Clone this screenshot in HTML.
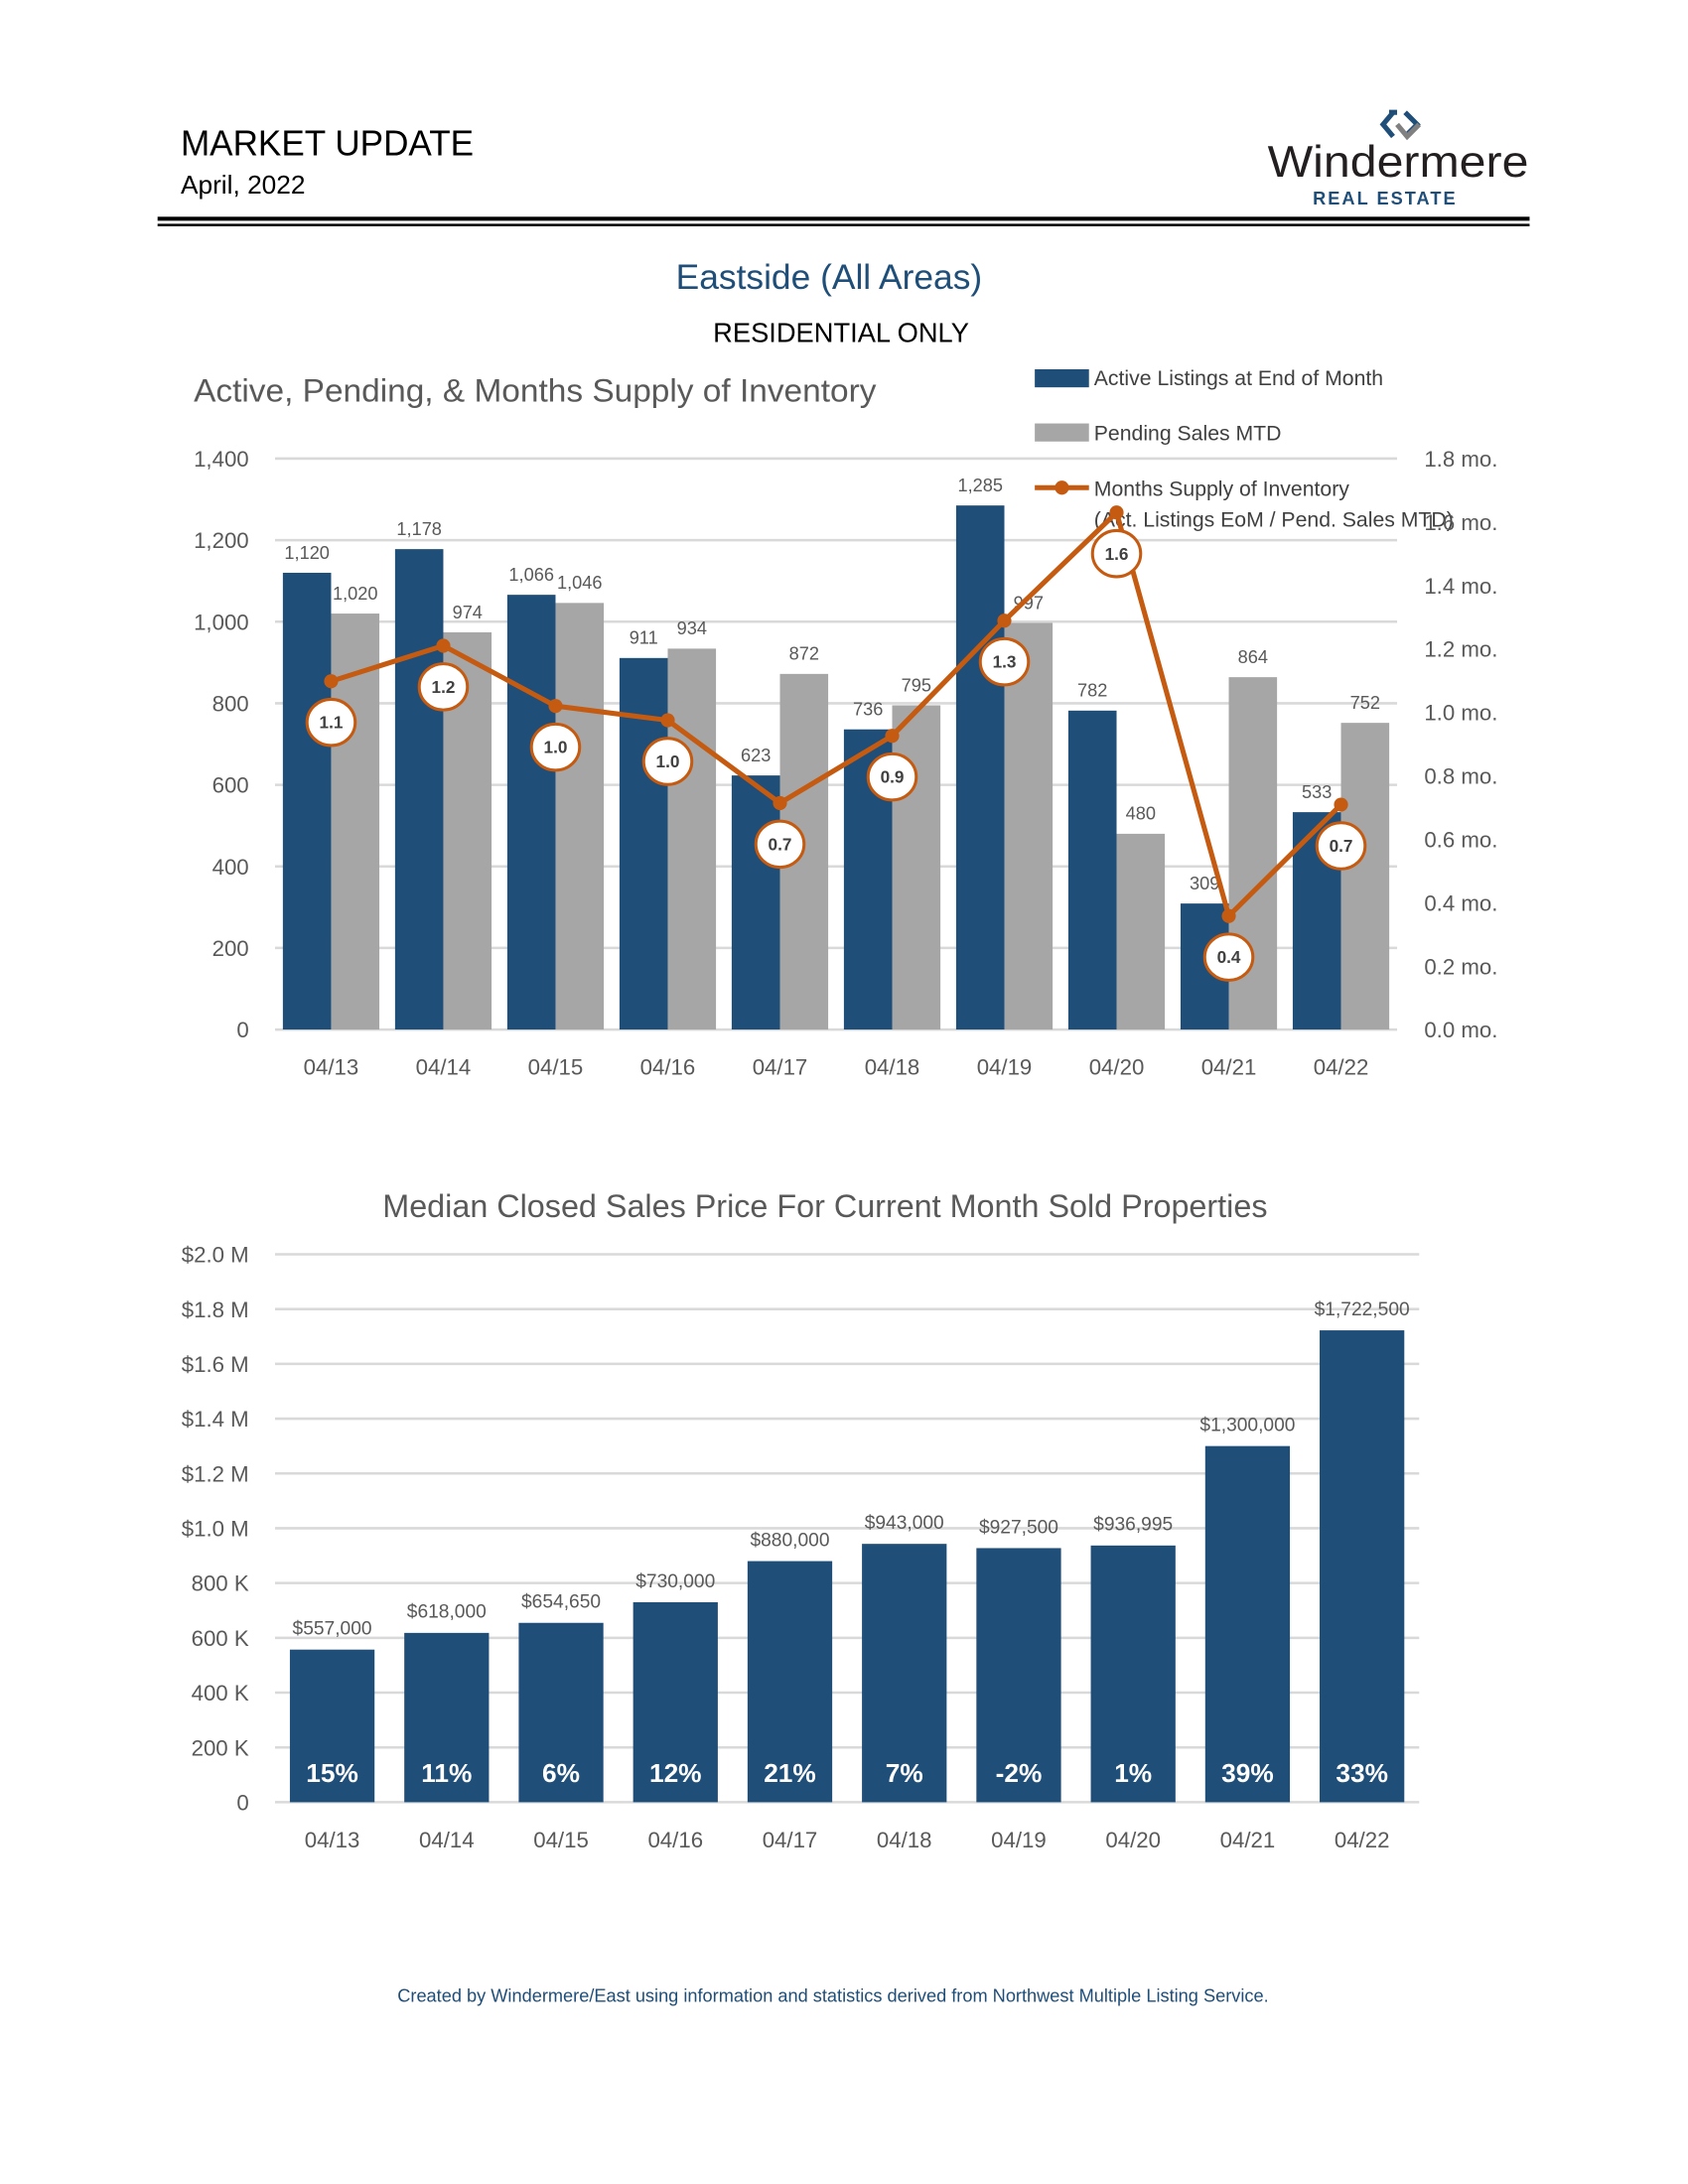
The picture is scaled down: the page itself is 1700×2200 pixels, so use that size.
<!DOCTYPE html>
<html><head><meta charset="utf-8"><style>
html,body{margin:0;padding:0;background:#fff;}
svg{display:block;font-family:"Liberation Sans",sans-serif;}
</style></head><body>
<svg id="page" width="1700" height="2200" viewBox="0 0 1700 2200" xmlns="http://www.w3.org/2000/svg">
<g transform="scale(1.0108)">
<text x="180" y="155" font-size="36" fill="#000" textLength="292" lengthAdjust="spacingAndGlyphs">MARKET UPDATE</text>
<text x="180" y="193" font-size="26" fill="#000">April, 2022</text>
<g>
<path d="M1388 112 l-10 12 l10 12 M1384 112 l8 0 M1400 112 l12 12 l-12 12" stroke="#1f4e79" stroke-width="5" fill="none"/>
<path d="M1392 124 l10 12 l12 -12" stroke="#808080" stroke-width="5" fill="none"/>
<text x="1393" y="176" font-size="44" text-anchor="middle" fill="#231f20" textLength="260" lengthAdjust="spacingAndGlyphs">Windermere</text>
<text x="1380" y="204" font-size="18" font-weight="bold" text-anchor="middle" fill="#1f4e79" letter-spacing="2">REAL ESTATE</text>
</g>
<rect x="157" y="216" width="1367" height="4" fill="#000"/>
<rect x="157" y="223" width="1367" height="2.5" fill="#000"/>
<text x="826" y="288" font-size="35" text-anchor="middle" fill="#1f4e79">Eastside (All Areas)</text>
<text x="838" y="341" font-size="27" text-anchor="middle" fill="#000">RESIDENTIAL ONLY</text>
<text x="193" y="400" font-size="32" fill="#595959" textLength="680" lengthAdjust="spacingAndGlyphs">Active, Pending, &amp; Months Supply of Inventory</text>
<g>
<rect x="1031" y="368" width="54" height="18" fill="#1f4e79"/>
<text x="1090" y="384" font-size="21" fill="#404040">Active Listings at End of Month</text>
<rect x="1031" y="422" width="54" height="18" fill="#a6a6a6"/>
<text x="1090" y="439" font-size="21" fill="#404040">Pending Sales MTD</text>
<line x1="1031" y1="486" x2="1085" y2="486" stroke="#c55a11" stroke-width="5"/>
<circle cx="1058" cy="486" r="7" fill="#c55a11"/>
<text x="1090" y="494" font-size="21" fill="#404040">Months Supply of Inventory</text>
<text x="1090" y="525" font-size="21" fill="#404040">(Act. Listings EoM / Pend. Sales MTD)</text>
</g>
<g id="chart1"></g>
<text x="822" y="1213" font-size="32" text-anchor="middle" fill="#595959">Median Closed Sales Price For Current Month Sold Properties</text>
<g id="chart2"></g>
<text x="830" y="1995" font-size="18" text-anchor="middle" fill="#1f4e79">Created by Windermere/East using information and statistics derived from Northwest Multiple Listing Service.</text>
</g>
</svg>
<script>
const categories = ["04/13","04/14","04/15","04/16","04/17","04/18","04/19","04/20","04/21","04/22"];
const activeListings = [1120,1178,1066,911,623,736,1285,782,309,533];
const pendingSales = [1020,974,1046,934,872,795,997,480,864,752];
const monthsSupply = [1.098,1.21,1.02,0.975,0.714,0.926,1.289,1.63,0.358,0.709];
const monthsLabels = ["1.1","1.2","1.0","1.0","0.7","0.9","1.3","1.6","0.4","0.7"];
const leftTicks = [0,200,400,600,800,1000,1200,1400];
const rightTicks = [0,0.2,0.4,0.6,0.8,1.0,1.2,1.4,1.6,1.8];
const medianPrice = [557000,618000,654650,730000,880000,943000,927500,936995,1300000,1722500];
const yoyChange = [15,11,6,12,21,7,-2,1,39,33];
const priceTicks = [0,200000,400000,600000,800000,1000000,1200000,1400000,1600000,1800000,2000000];
const priceTickLabels = ["0","200 K","400 K","600 K","800 K","$1.0 M","$1.2 M","$1.4 M","$1.6 M","$1.8 M","$2.0 M"];

const NS="http://www.w3.org/2000/svg";
function mk(parent,tag,attrs,text){const e=document.createElementNS(NS,tag);for(const k in attrs)e.setAttribute(k,attrs[k]);if(text!==undefined)e.textContent=text;parent.appendChild(e);return e;}
const fmt=n=>n.toLocaleString("en-US");

// Chart 1
const c1=document.getElementById("chart1");
const X0=274,X1=1392,Y0=1026,Ytop=457;
const bw=(X1-X0)/categories.length;
const yL=v=>Y0-(v/1400)*(Y0-Ytop);
const yR=v=>Y0-(v/1.8)*(Y0-Ytop);
leftTicks.forEach(t=>{
  const g=mk(c1,"line",{x1:X0,x2:X1,y1:yL(t),y2:yL(t),stroke:"#d9d9d9","stroke-width":2.5});
  
  
  const l=mk(c1,"text",{x:248,y:yL(t)+8,"font-size":22,"text-anchor":"end",fill:"#595959"},fmt(t));
  
  
});
rightTicks.forEach(t=>{
  const l=mk(c1,"text",{x:1419,y:yR(t)+8,"font-size":22,fill:"#595959"},t.toFixed(1)+" mo.");
  
  
});
const barW=bw*0.43;
categories.forEach((c,i)=>{
  const cx=X0+bw*(i+0.5);
  const a=mk(c1,"rect",{x:cx-barW,y:yL(activeListings[i]),width:barW,height:Y0-yL(activeListings[i]),fill:"#1f4e79"});
  
  
  const p=mk(c1,"rect",{x:cx,y:yL(pendingSales[i]),width:barW,height:Y0-yL(pendingSales[i]),fill:"#a6a6a6"});
  
  
  const al=mk(c1,"text",{x:cx-barW/2,y:yL(activeListings[i])-14,"font-size":18,"text-anchor":"middle",fill:"#595959"},fmt(activeListings[i]));
  
  
  const pl=mk(c1,"text",{x:cx+barW/2,y:yL(pendingSales[i])-14,"font-size":18,"text-anchor":"middle",fill:"#595959"},fmt(pendingSales[i]));
  
  
  const xl=mk(c1,"text",{x:cx,y:1071,"font-size":22,"text-anchor":"middle",fill:"#595959"},c);
  
  
});
const pts=monthsSupply.map((v,i)=>[X0+bw*(i+0.5),yR(v)]);
const line=mk(c1,"polyline",{points:pts.map(p=>p.join(",")).join(" "),fill:"none",stroke:"#c55a11","stroke-width":5});


pts.forEach((p,i)=>{
  const m=mk(c1,"circle",{cx:p[0],cy:p[1],r:7,fill:"#c55a11"});
  
  
  const e=mk(c1,"ellipse",{cx:p[0],cy:p[1]+41,rx:24,ry:23,fill:"#fff",stroke:"#c55a11","stroke-width":3});
  
  
  const t=mk(c1,"text",{x:p[0],y:p[1]+47,"font-size":17,"font-weight":"bold","text-anchor":"middle",fill:"#404040"},monthsLabels[i]);
  
  
});

// Chart 2
const c2=document.getElementById("chart2");
const P0=274,P1=1414,PY0=1796,PYtop=1250;
const pw=(P1-P0)/categories.length;
const yP=v=>PY0-(v/2000000)*(PY0-PYtop);
priceTicks.forEach((t,i)=>{
  const g=mk(c2,"line",{x1:P0,x2:P1,y1:yP(t),y2:yP(t),stroke:"#d9d9d9","stroke-width":2.5});
  
  
  const l=mk(c2,"text",{x:248,y:yP(t)+8,"font-size":22,"text-anchor":"end",fill:"#595959"},priceTickLabels[i]);
  
  
});
categories.forEach((c,i)=>{
  const cx=P0+pw*(i+0.5);const w=pw*0.74;
  const b=mk(c2,"rect",{x:cx-w/2,y:yP(medianPrice[i]),width:w,height:PY0-yP(medianPrice[i]),fill:"#1f4e79"});
  
  
  const v=mk(c2,"text",{x:cx,y:yP(medianPrice[i])-15,"font-size":19,"text-anchor":"middle",fill:"#595959"},"$"+fmt(medianPrice[i]));
  
  
  const pc=mk(c2,"text",{x:cx,y:1776,"font-size":26,"font-weight":"bold","text-anchor":"middle",fill:"#fff"},yoyChange[i]+"%");
  
  
  const xl=mk(c2,"text",{x:cx,y:1841,"font-size":22,"text-anchor":"middle",fill:"#595959"},c);
  
  
});
</script>
</body></html>
